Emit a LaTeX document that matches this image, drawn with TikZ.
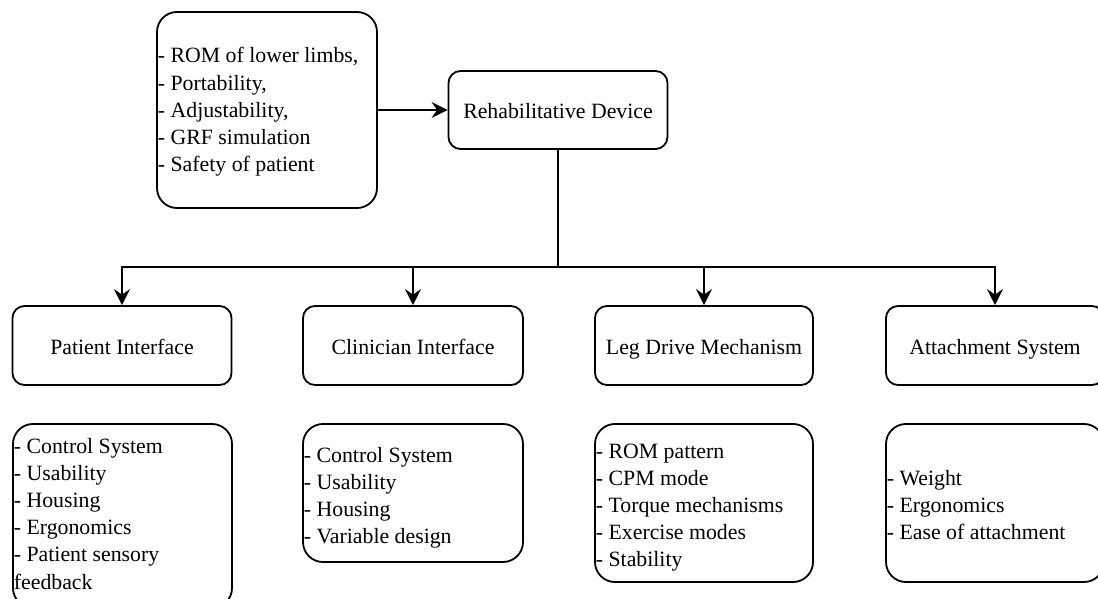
\documentclass[tikz,border=0pt]{standalone}
\usepackage{fontspec}
\setmainfont{Liberation Serif}
\usetikzlibrary{arrows.meta}
\begin{document}
\begin{tikzpicture}[x=1bp,y=-1bp,
  line width=1.8bp,
  every node/.style={font=\fontsize{21.8bp}{27.2bp}\selectfont},
  box/.style={draw, rounded corners=#1, inner sep=0, text height=19bp, text depth=2bp},
  arr/.style={-{Stealth[length=16bp,width=16bp,inset=5.5bp]}},
  listtext/.style={anchor=base west, inner sep=0, align=left}
]
\useasboundingbox (0,0) rectangle (1098,599);

% top row
\node[box=20bp, minimum width=220bp, minimum height=196bp] (req) at (267,110) {};
\node[listtext] (reqt) at (157,63) {\parbox[t]{215bp}{- ROM of lower limbs,\\- Portability,\\- Adjustability,\\- GRF simulation\\- Safety of patient}};
\node[box=12bp, minimum width=219bp, minimum height=78bp] (rehab) at (558,110) {Rehabilitative Device};

% second row
\node[box=12bp, minimum width=219bp, minimum height=79bp] (pi) at (122,345.5) {Patient Interface};
\node[box=12bp, minimum width=220bp, minimum height=79bp] (ci) at (413,345.5) {Clinician Interface};
\node[box=12bp, minimum width=218bp, minimum height=79bp] (ld) at (704,345.5) {Leg Drive Mechanism};
\node[box=12bp, minimum width=218bp, minimum height=79bp] (as) at (995,345.5) {Attachment System};

% third row
\node[box=20bp, minimum width=219bp, minimum height=184bp] (pl) at (122.5,516) {};
\node[listtext] (plt) at (13,453) {\parbox[t]{215bp}{- Control System\\- Usability\\- Housing\\- Ergonomics\\- Patient sensory\\feedback}};
\node[box=20bp, minimum width=220bp, minimum height=138bp] (cl) at (413,493) {};
\node[listtext] (clt) at (303,462) {\parbox[t]{215bp}{- Control System\\- Usability\\- Housing\\- Variable design}};
\node[box=20bp, minimum width=218bp, minimum height=158bp] (ll) at (704,503) {};
\node[listtext] (llt) at (595,458) {\parbox[t]{215bp}{- ROM pattern\\- CPM mode\\- Torque mechanisms\\- Exercise modes\\- Stability}};
\node[box=20bp, minimum width=218bp, minimum height=158bp] (al) at (995,503) {};
\node[listtext] (alt) at (886,485) {\parbox[t]{215bp}{- Weight\\- Ergonomics\\- Ease of attachment}};

% connectors
\draw[arr] (req) -- (rehab);
\coordinate (junc) at (558,267);
\draw (rehab.south) -- (junc);
\draw[arr] (junc) -| (pi.north);
\draw[arr] (junc) -| (ci.north);
\draw[arr] (junc) -| (ld.north);
\draw[arr] (junc) -| (as.north);
\end{tikzpicture}
\end{document}
